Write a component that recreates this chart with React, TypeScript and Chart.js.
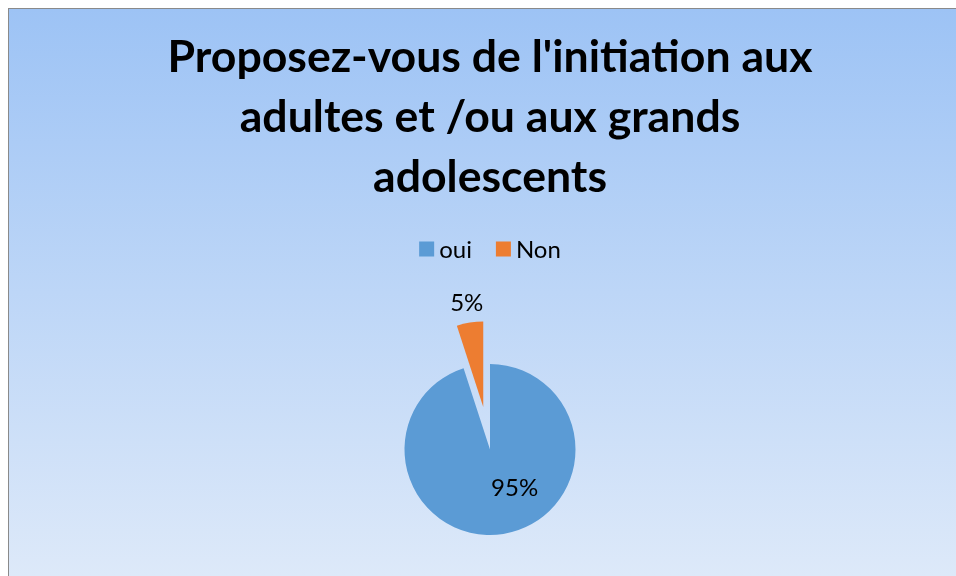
import React, { useEffect, useRef } from "react";
import { Chart, registerables } from "chart.js";

Chart.register(...registerables);

const titleLines = ["Proposez-vous de l'initiation aux", "adultes et /ou aux grands", "adolescents"];
const categories = ["oui", "Non"];
const values = [95, 5];
const labelsText = ["95%", "5%"];
const colors = ["#5B9BD5", "#ED7D31"];
const explode = [0, 43];

const explodePlugin = {
  id: "explodeSlices",
  afterDatasetUpdate(chart: any, args: any) {
    const meta = chart.getDatasetMeta(args.index);
    meta.data.forEach((arc: any, i: number) => {
      const e = explode[i] || 0;
      if (!e) return;
      const mid = (arc.startAngle + arc.endAngle) / 2;
      arc.x += Math.cos(mid) * e;
      arc.y += Math.sin(mid) * e;
    });
  },
};

const labelPlugin = {
  id: "sliceLabels",
  afterDatasetsDraw(chart: any) {
    const ctx = chart.ctx;
    const meta = chart.getDatasetMeta(0);
    ctx.save();
    ctx.font = "24px Lato";
    ctx.fillStyle = "#000";
    ctx.textAlign = "center";
    ctx.textBaseline = "middle";
    meta.data.forEach((arc: any, i: number) => {
      const r = arc.outerRadius;
      let ang: number;
      let dist: number;
      if (i === 0) {
        ang = (147.5 - 90) * Math.PI / 180;
        dist = r * 0.535;
      } else {
        ang = (arc.startAngle + arc.endAngle) / 2;
        dist = r + 20;
      }
      ctx.fillText(labelsText[i], arc.x + Math.cos(ang) * dist, arc.y + Math.sin(ang) * dist);
    });
    ctx.restore();
  },
};

const legendPlugin = {
  id: "customLegend",
  afterDraw(chart: any) {
    const ctx = chart.ctx;
    ctx.save();
    ctx.font = "24px Lato";
    ctx.textBaseline = "middle";
    ctx.textAlign = "left";
    const box = 15;
    const gap = 5;
    const itemGap = 24;
    const labels: string[] = chart.data.labels;
    const widths = labels.map((l) => box + gap + ctx.measureText(l).width);
    const total = widths.reduce((a, b) => a + b, 0) + itemGap * (labels.length - 1);
    const cy = chart.chartArea.top - 18.5;
    let x = (chart.chartArea.left + chart.chartArea.right) / 2 - total / 2;
    labels.forEach((l, i) => {
      ctx.fillStyle = chart.data.datasets[0].backgroundColor[i];
      ctx.fillRect(x, cy - box / 2, box, box);
      ctx.fillStyle = "#000";
      ctx.fillText(l, x + box + gap, cy + 1);
      x += widths[i] + itemGap;
    });
    ctx.restore();
  },
};

export default function App() {
  const ref = useRef<HTMLCanvasElement>(null);
  useEffect(() => {
    const chart = new Chart(ref.current!, {
      type: "pie",
      data: {
        labels: categories,
        datasets: [
          {
            data: values,
            backgroundColor: colors,
            borderWidth: 0,
          } as any,
        ],
      },
      options: {
        responsive: false,
        animation: false,
        radius: 85.5,
        layout: { padding: { top: 0, left: 0, right: 0, bottom: 17.5 } },
        plugins: {
          title: {
            display: true,
            text: titleLines,
            color: "#000",
            font: { family: "Lato", size: 44.6, weight: "bold", lineHeight: "60px" },
            padding: { top: 18.5, bottom: 60 },
          },
          legend: { display: false },
          tooltip: { enabled: false },
        },
      } as any,
      plugins: [explodePlugin, labelPlugin, legendPlugin],
    });
    return () => chart.destroy();
  }, []);
  return (
    <div
      style={{
        position: "fixed",
        left: 8,
        top: 8,
        width: 962,
        height: 568,
        overflow: "hidden",
        borderTop: "1px solid #8a8a8a",
        borderLeft: "1px solid #8a8a8a",
        boxSizing: "border-box",
        background: "linear-gradient(to bottom, #9dc3f5 0%, #dde9f9 100%)",
      }}
    >
      <canvas ref={ref} width={962} height={640} style={{ display: "block" }} />
    </div>
  );
}
